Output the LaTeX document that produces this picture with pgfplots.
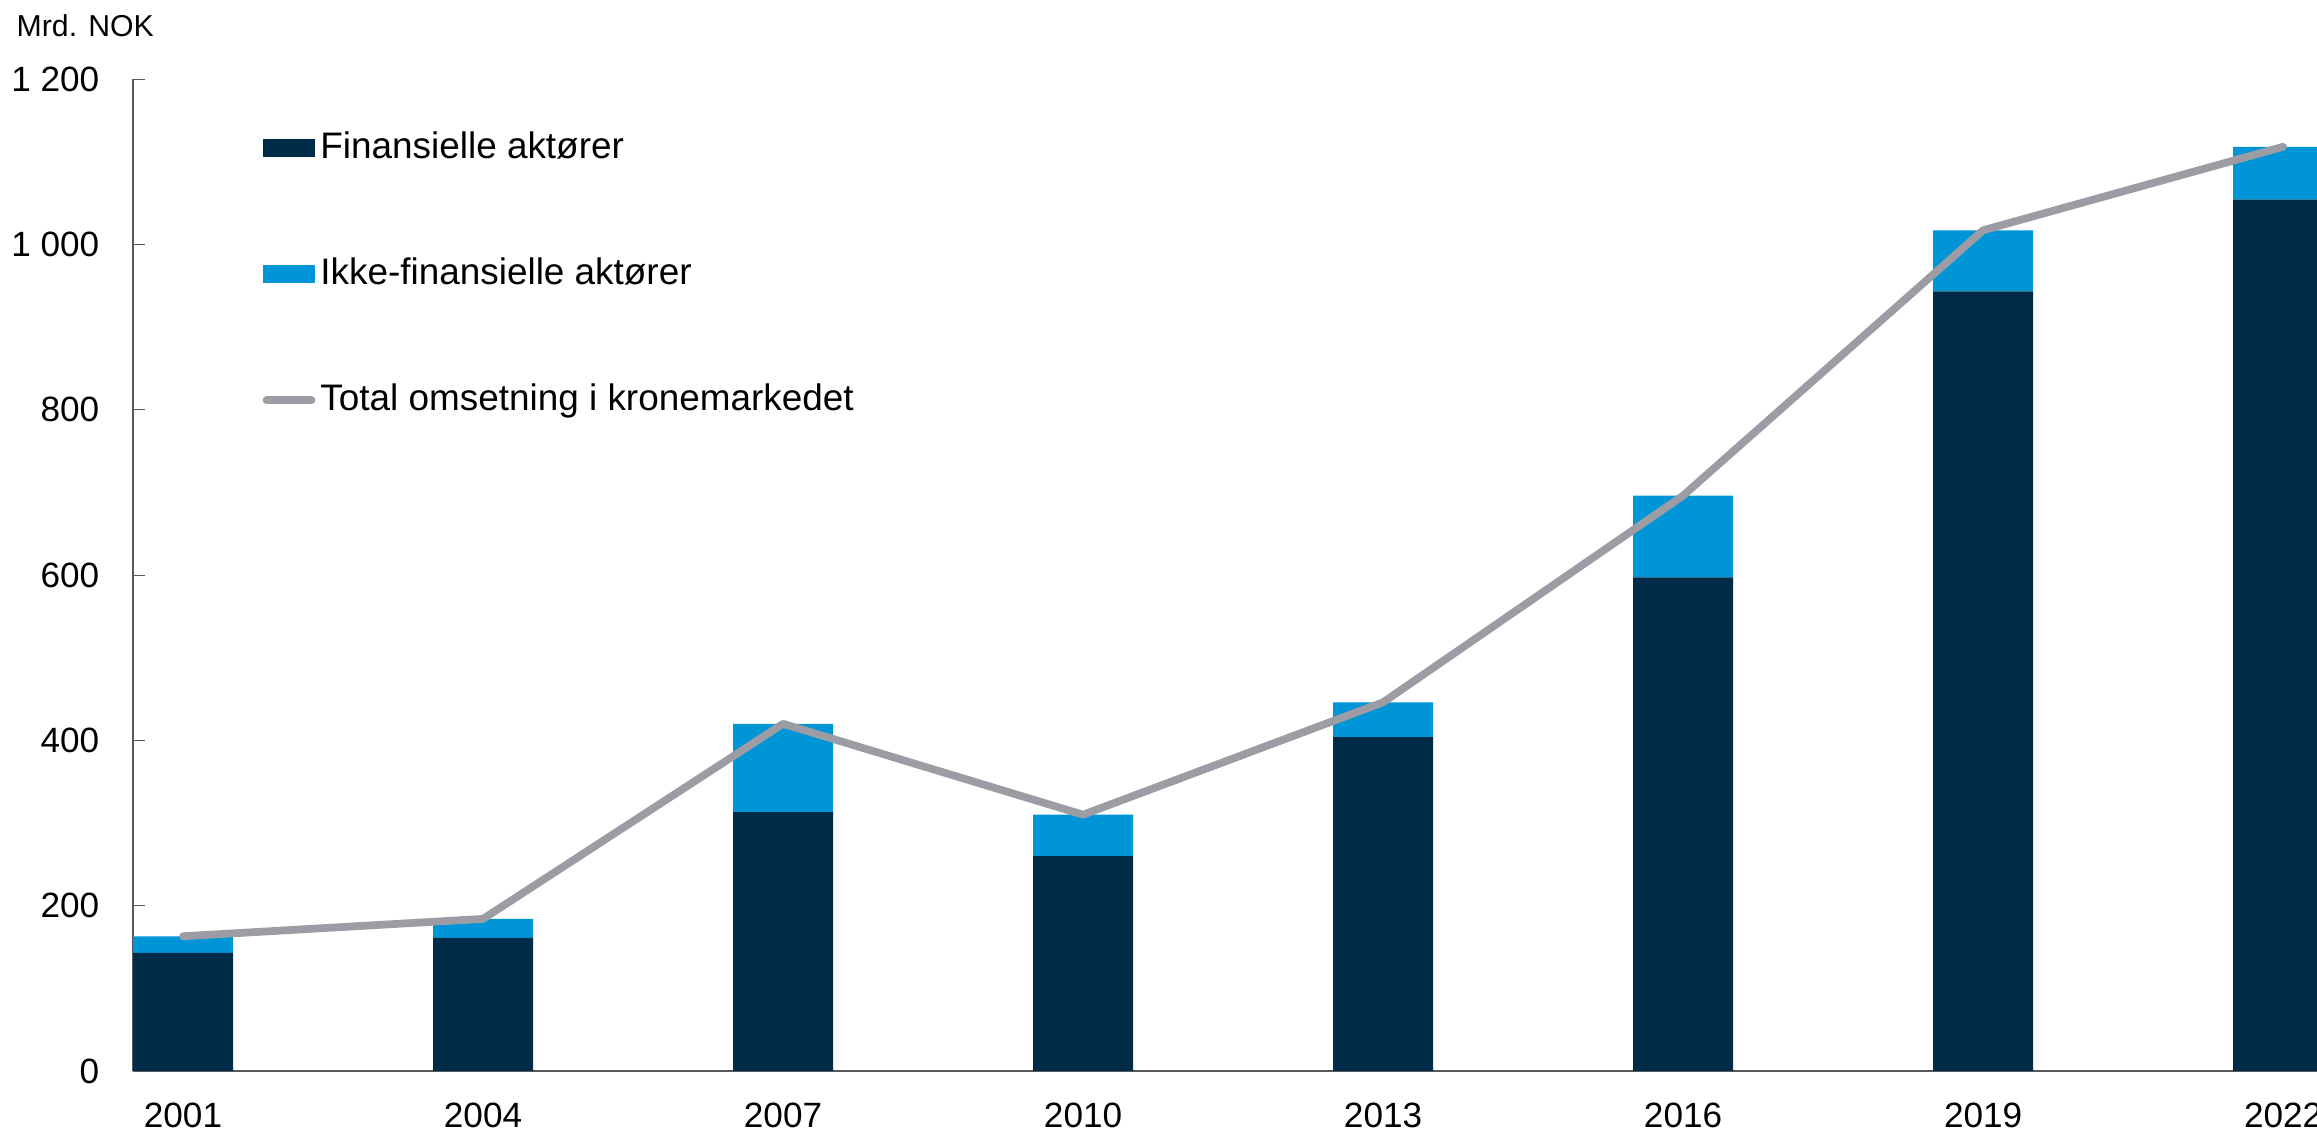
\documentclass[border=0pt]{standalone}
\usepackage{pgfplots}
\pgfplotsset{compat=1.18}
\usepackage{pgfplotstable}
\usepackage{fontspec}
\setmainfont{Liberation Sans}

\definecolor{navy}{HTML}{002B49}
\definecolor{lightblue}{HTML}{0095D6}
\definecolor{linegray}{HTML}{9C9DA4}

% omsetning, mrd. NOK
\pgfplotstableread{
x year fin ikke total
0 2001 143 20 163
1 2004 161 23 184
2 2007 313 107 420
3 2010 260 50 310
4 2013 404 42 446
5 2016 597 99 696
6 2019 943 74 1017
7 2022 1054 64 1118
}\data

\pgfplotsset{
  base/.style={
    width=21.84cm, height=9.92cm, scale only axis,
    at={(0,0)}, anchor=south west,
    xmin=-0.1667, xmax=7.113, ymin=0, ymax=1200,
  },
  barleg/.style={legend image code/.code={\fill[##1] (0cm,-0.09cm) rectangle (0.52cm,0.09cm);}},
}

\begin{document}
\begin{tikzpicture}
\useasboundingbox (-1.33,-0.63) rectangle (21.84,10.71);

\begin{axis}[
  base,
  ybar stacked,
  bar width=0.3333,
  axis lines*=left,
  axis line style={black!65},
  ytick={0,200,...,1200},
  tick align=inside,
  major tick length=0.12cm,
  ytick style={black!65},
  xtick=data,
  xticklabels from table={\data}{year},
  xtick style={draw=none},
  tick label style={font=\fontsize{10}{12}\selectfont},
  /pgf/number format/assume math mode=true,
  yticklabel style={/pgf/number format/1000 sep={\ }, inner sep=0pt, xshift=-0.33cm},
  xticklabel style={anchor=north, inner sep=0pt, yshift=-0.31cm},
  legend style={
    at={(0.0590,0.9480)}, anchor=north west,
    draw=none, fill=none, inner sep=0pt,
    row sep=0.92cm,
    font=\fontsize{10.5}{12.5}\selectfont,
    nodes={inner sep=0pt, text height=0.27cm, text depth=0.07cm},
    /tikz/every odd column/.append style={column sep=0.05cm},
  },
  legend cell align=left,
]
\addplot[fill=navy, draw=none, barleg] table[x=x, y=fin]{\data};
\addlegendentry{Finansielle aktører}
\addplot[fill=lightblue, draw=none, barleg] table[x=x, y=ikke]{\data};
\addlegendentry{Ikke-finansielle aktører}
\addlegendimage{legend image code/.code={\draw[linegray, line width=2.2pt, line cap=round] (0.04cm,0cm) -- (0.49cm,0cm);}}
\addlegendentry{Total omsetning i kronemarkedet}
\end{axis}

\begin{axis}[base, hide axis]
\addplot[linegray, line width=2.2pt, line cap=round, line join=round] table[x=x, y=total]{\data};
\end{axis}

\node[anchor=base west, inner sep=0pt, font=\fontsize{8.6}{10}\selectfont] at (-1.17,10.34) {Mrd. NOK};
\end{tikzpicture}
\end{document}
